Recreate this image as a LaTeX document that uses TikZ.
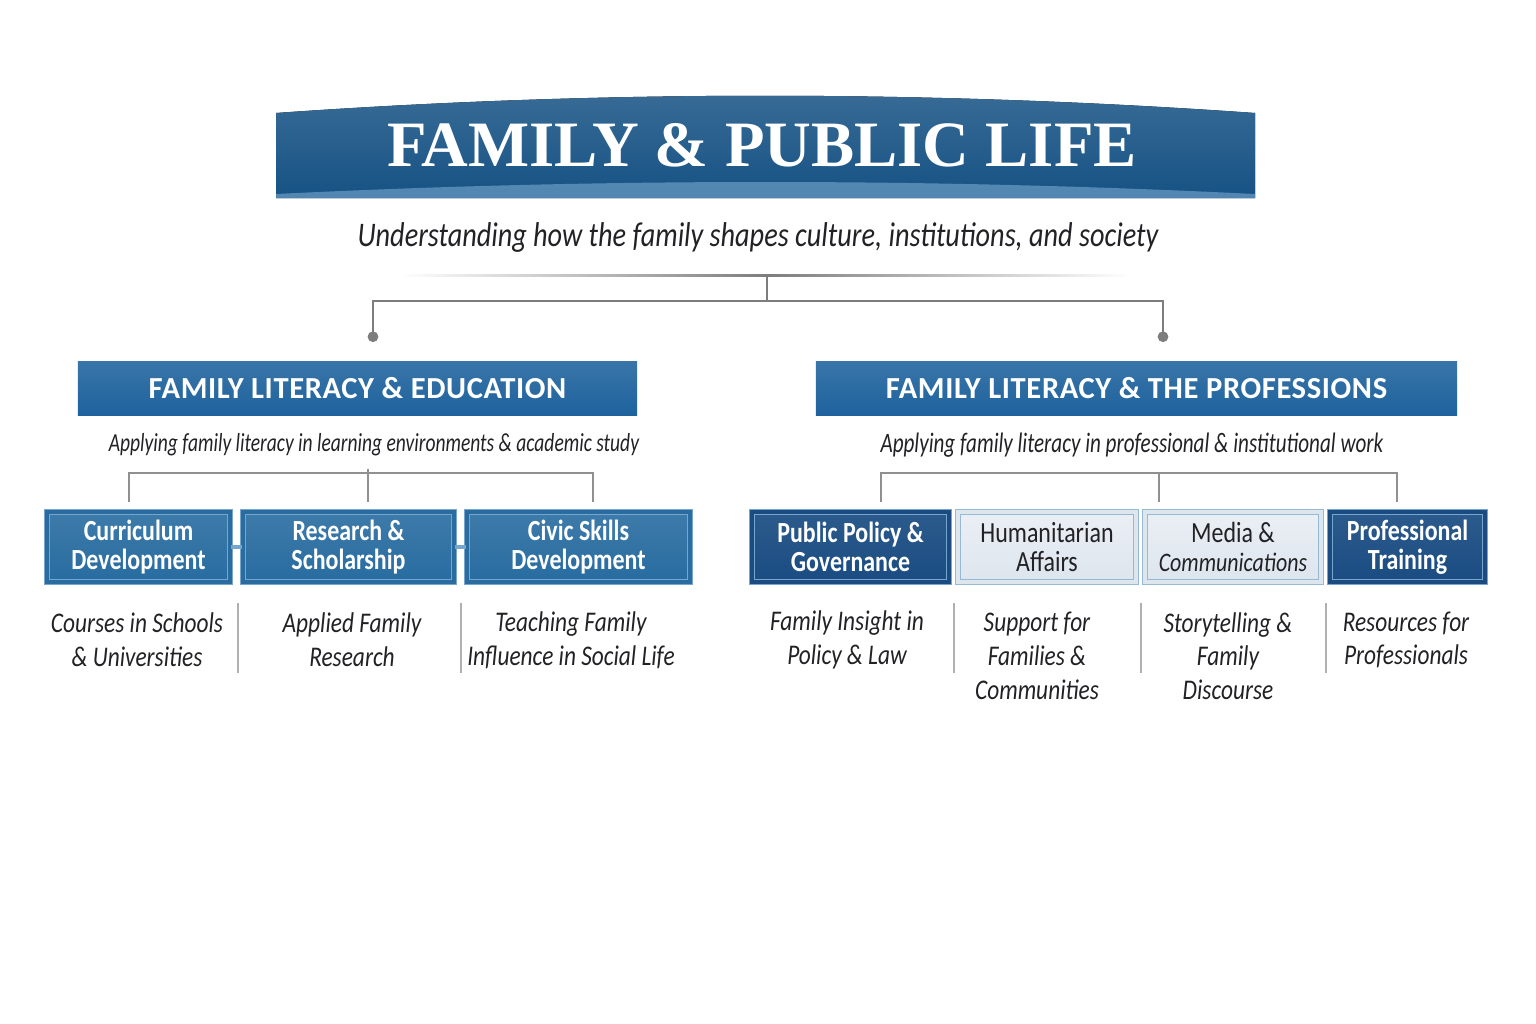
\documentclass[tikz,border=0pt]{standalone}
\usepackage{fontspec}
\setmainfont{Carlito}[FakeStretch=0.82]
\newfontfamily\titlefont{Liberation Serif}
\newfontfamily\headfont{Carlito}[LetterSpace=2]
\newfontfamily\ledefont{Carlito}[FakeStretch=0.75]
\usetikzlibrary{arrows.meta,positioning}
\definecolor{bannerblue}{RGB}{22,82,132}
\definecolor{bannerlight}{RGB}{120,170,208}
\definecolor{headblue}{RGB}{30,98,157}
\definecolor{boxblue}{RGB}{40,108,160}
\definecolor{darkblue}{RGB}{26,76,130}
\definecolor{frameblue}{RGB}{120,165,205}
\definecolor{palefill}{RGB}{221,229,237}
\definecolor{paleframe}{RGB}{150,185,215}
\definecolor{linegray}{RGB}{125,125,125}
\definecolor{textdark}{RGB}{34,34,38}
\begin{document}
\begin{tikzpicture}[x=0.01cm, y=-0.01cm,
    conn/.style={draw=linegray, line width=0.8pt},
    bracket/.style={draw=linegray!85, line width=0.6pt},
    divider/.style={draw=linegray!60, line width=0.5pt},
    link/.style={draw=frameblue, line width=1pt},
    header/.style={top color=headblue!88!white, bottom color=headblue,
        minimum height=0.53cm, inner sep=0pt,
        text=white, font=\headfont\fontsize{8.7}{10}\selectfont\bfseries},
    card/.style={top color=boxblue!90!white, bottom color=boxblue, draw=frameblue,
        double=boxblue, double distance=1.1pt, line width=0.35pt,
        minimum height=0.7cm, inner sep=0pt, align=center, text=white,
        font=\fontsize{8.3}{8.1}\selectfont\bfseries},
    darkcard/.style={card, top color=darkblue!92!white, bottom color=darkblue,
        double=darkblue},
    palecard/.style={card, top color=palefill!60!white, bottom color=palefill,
        draw=paleframe, double=palefill, text=textdark,
        font=\fontsize{8.3}{8.1}\selectfont},
    desc/.style={align=center, text=textdark,
        font=\fontsize{8.1}{9.6}\selectfont\itshape},
    lede/.style={text=textdark, font=\ledefont\fontsize{7.4}{9}\selectfont\itshape}]
  \useasboundingbox[fill=white] (0,0) rectangle (1536,1024);
  % Title banner
  \fill[top color=bannerblue!85!white, bottom color=bannerblue]
    (276,113) .. controls (600,90) and (930,90) .. (1255,113)
    -- (1255,198) -- (276,198) -- cycle;
  \fill[bannerlight, opacity=0.6]
    (276,198) -- (276,194) .. controls (600,178) and (930,178) .. (1255,194)
    -- (1255,198) -- cycle;
  \node[text=white, font=\titlefont\fontsize{18.4}{20}\selectfont\bfseries]
    (title) at (762,145) {FAMILY \& PUBLIC LIFE};
  \node[text=textdark, font=\fontsize{9.8}{11}\selectfont\itshape]
    (tagline) at (758,237) {Understanding how the family shapes culture, institutions, and society};
  % Top rule and split
  \shade[left color=white, right color=linegray] (400,274) rectangle (767,276.5);
  \shade[left color=linegray, right color=white] (767,274) rectangle (1130,276.5);
  \coordinate (hubT) at (767,275);
  \coordinate (dropL) at (373,342);
  \coordinate (dropR) at (1163,342);
  \draw[conn, -{Circle[length=3pt]}] (hubT) -- ++(0,26) -| (dropL);
  \draw[conn, -{Circle[length=3pt]}] (hubT) -- ++(0,26) -| (dropR);
  % Section headers
  \node[header, minimum width=5.59cm] (secL) at (357.5,388.5) {FAMILY LITERACY \& EDUCATION};
  \node[header, minimum width=6.41cm] (secR) at (1136.5,388.5) {FAMILY LITERACY \& THE PROFESSIONS};
  \node[lede] (subL) at (374,445) {Applying family literacy in learning environments \& academic study};
  \node[lede, font=\ledefont\fontsize{8}{9}\selectfont\itshape] (subR) at (1132,445)
    {Applying family literacy in professional \& institutional work};
  % Brackets
  \coordinate (tL1) at (129,502);
  \coordinate (tL2) at (368,502);
  \coordinate (tL3) at (593,502);
  \coordinate (tR1) at (881,502);
  \coordinate (tR2) at (1159,502);
  \coordinate (tR3) at (1397,502);
  \draw[bracket] (tL1) -- ++(0,-29) -| (tL3);
  \draw[bracket] (tL2 |- subL.south) -- (tL2);
  \draw[bracket] (tR1) -- ++(0,-29) -| (tR3);
  \draw[bracket] (tR2) -- ++(0,-29);
  % Education cards
  \node[card, minimum width=1.83cm] (c1) at (138.5,547) {Curriculum\\Development};
  \node[card, minimum width=2.11cm] (c2) at (348.5,547) {Research \&\\Scholarship};
  \node[card, minimum width=2.23cm] (c3) at (578.5,547) {Civic Skills\\Development};
  \draw[link] (c1) -- (c2);
  \draw[link] (c2) -- (c3);
  % Profession cards
  \node[darkcard, minimum width=1.97cm] (p1) at (850.5,547) {Public Policy \&\\Governance};
  \node[palecard, minimum width=1.78cm] (p2) at (1047,547) {Humanitarian\\Affairs};
  \node[palecard, minimum width=1.76cm] (p3) at (1233,547)
    {Media \&\\{\fontsize{7.6}{8.1}\selectfont\itshape Communications}};
  \node[darkcard, minimum width=1.55cm] (p4) at (1407.5,547) {Professional\\Training};
  % Descriptions
  \node[desc] (d1) at (137,640) {Courses in Schools\\\& Universities};
  \node[desc] (d2) at (352,640) {Applied Family\\Research};
  \node[desc] (d3) at (571,640) {Teaching Family\\Influence in Social Life};
  \node[desc] (d4) at (847,640) {Family Insight in\\Policy \& Law};
  \node[desc] (d5) at (1037,656) {Support for\\Families \&\\Communities};
  \node[desc] (d6) at (1228,656) {Storytelling \&\\Family\\Discourse};
  \node[desc] (d7) at (1406,640) {Resources for\\Professionals};
  \foreach \x in {238,461,954,1141,1326}
    \draw[divider] (\x,603) -- (\x,673);
\end{tikzpicture}
\end{document}
